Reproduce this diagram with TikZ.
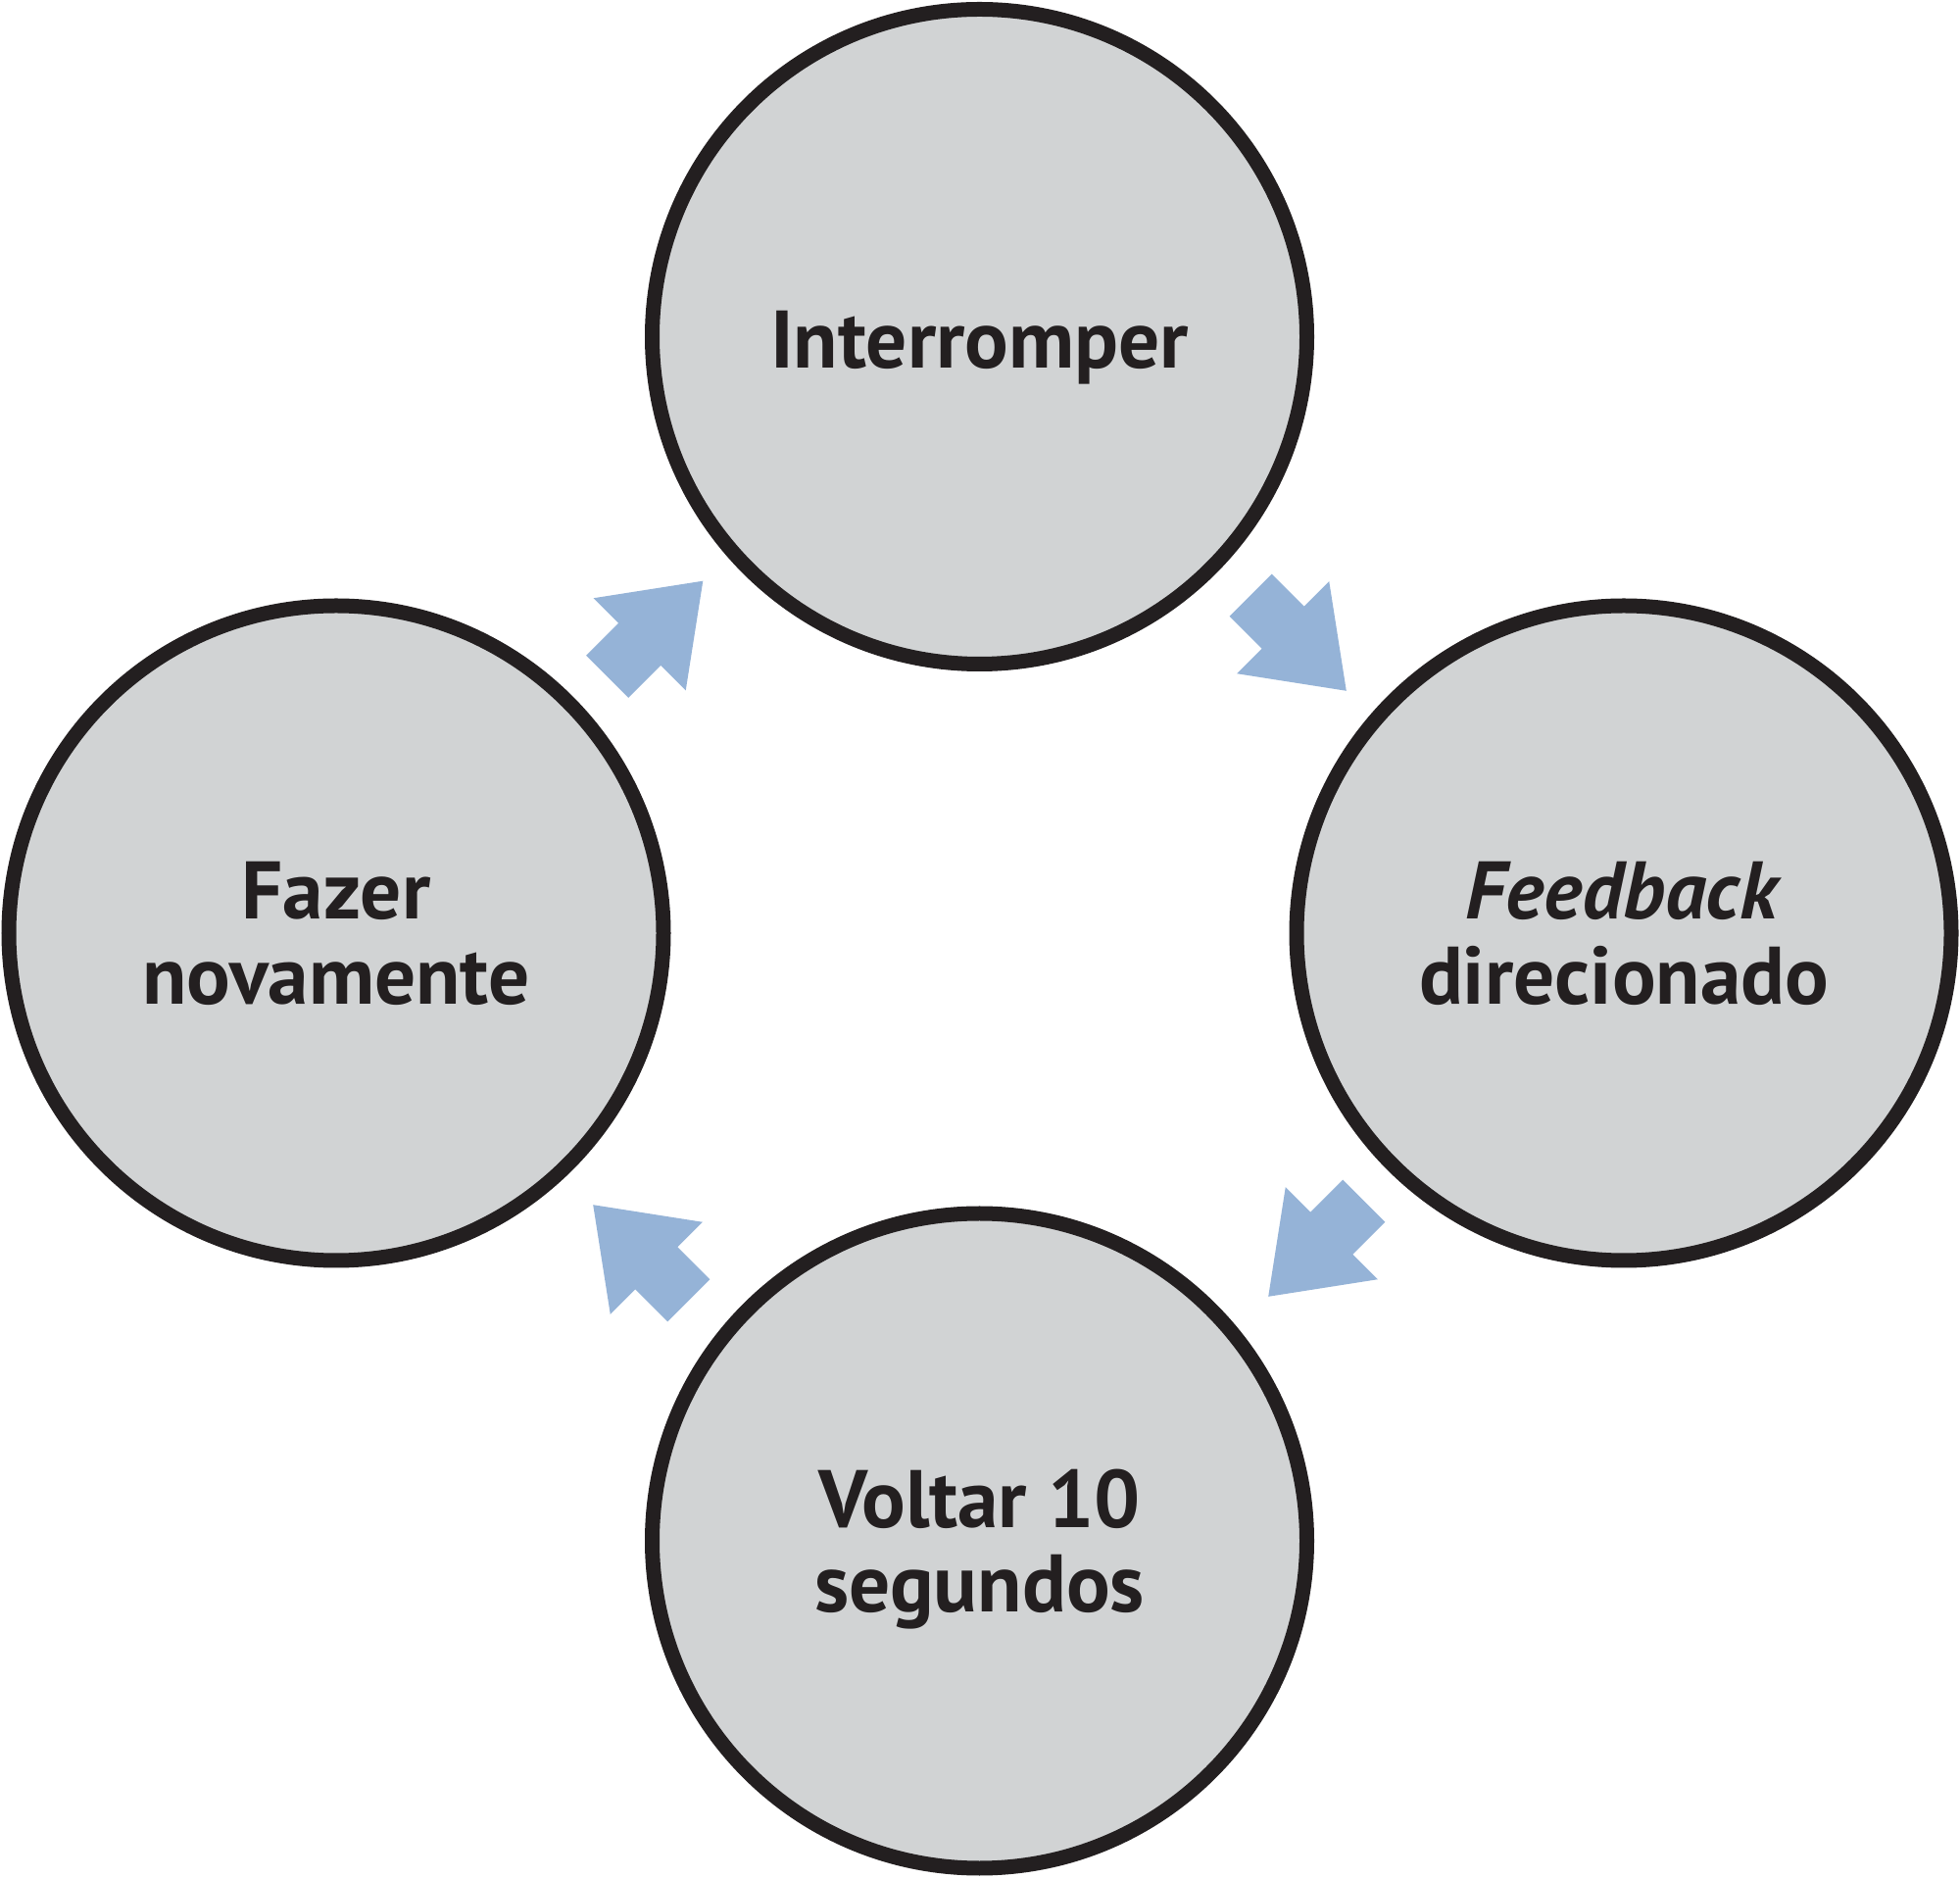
\documentclass[tikz,border=0pt]{standalone}
\usepackage{fontspec}
\setmainfont{PT Sans}
\usepackage{tikz}
\usetikzlibrary{positioning}

\definecolor{etapafundo}{HTML}{D1D3D4}
\definecolor{etapaborda}{HTML}{231F20}
\definecolor{setacor}{HTML}{95B3D7}

\tikzset{
  etapa/.style={circle, draw=etapaborda, fill=etapafundo, line width=0.15cm,
    minimum size=6.68cm, inner sep=0pt, align=center, text=etapaborda,
    text depth=0pt, font=\bfseries\fontsize{23.7}{24.6}\selectfont},
  setabloco/.style={fill=setacor, draw=none}
}

% block arrow: #1 = centre, #2 = direction
\newcommand{\setaciclo}[2]{%
  \fill[setabloco, shift={#1}, rotate=#2]
    (-0.69,-0.305) -- (-0.223,-0.305) -- (-0.223,-0.665) -- (0.69,0)
    -- (-0.223,0.665) -- (-0.223,0.305) -- (-0.69,0.305) -- cycle;}

\begin{document}
\begin{tikzpicture}
   \useasboundingbox (0,0) rectangle (20,19.16);
   \node[etapa, text height=0.65cm] (interromper) at (9.995,15.725) {Interromper};
   \node[etapa] (feedback) at (16.57,9.64) {\textit{Feedback}\\direcionado};
   \node[etapa] (voltar) at (9.995,3.44) {Voltar 10\\segundos};
   \node[etapa] (fazer) at (3.43,9.64) {Fazer\\novamente};
   % arrows between the steps
   \setaciclo{(13.25,12.60)}{-45}
   \setaciclo{(13.43,6.42)}{-135}
   \setaciclo{(6.54,6.38)}{135}
   \setaciclo{(6.685,12.745)}{45}
\end{tikzpicture}
\end{document}
